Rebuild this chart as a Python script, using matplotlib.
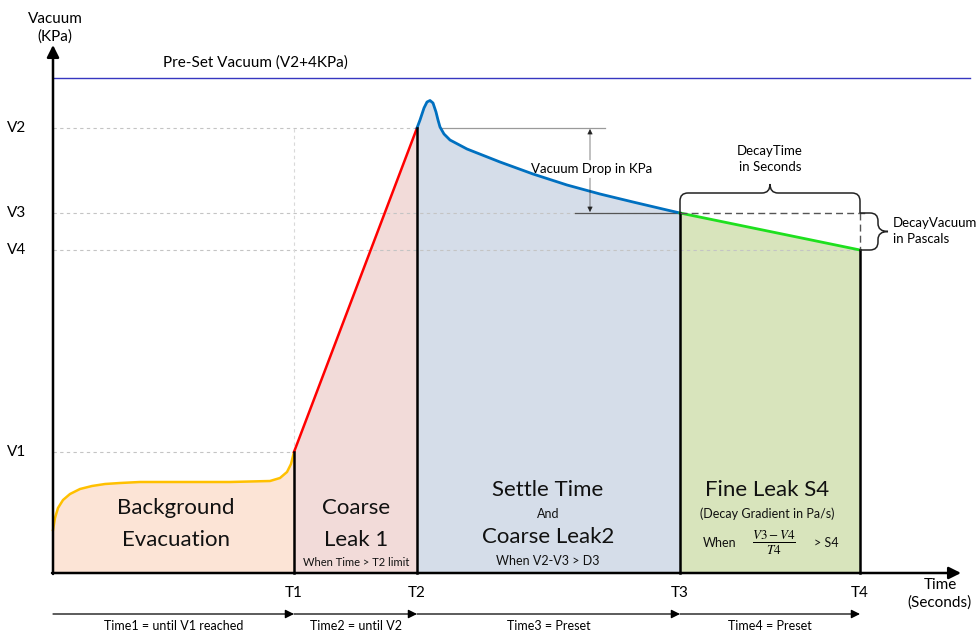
import matplotlib

matplotlib.use("Agg")
import matplotlib.pyplot as plt
from matplotlib.path import Path
from matplotlib.patches import PathPatch

# --- schematic values (x: time units, y: vacuum units) -----------------------
T_LABELS = ["T1", "T2", "T3", "T4"]
T_VALUES = [241, 364, 627, 807]
V_LABELS = ["V1", "V2", "V3", "V4"]
V_VALUES = [121, 445, 360, 323]
PRESET = 495

# background evacuation curve (yellow)
bg_t = [0, 2, 5, 10, 17, 27, 39, 52, 67, 87, 127, 177, 217, 227, 234, 238, 241]
bg_v = [43, 55, 65, 73, 79, 84, 87, 89, 90, 91, 91, 91, 92, 95, 101, 109, 121]

# coarse leak 1 ramp (red)
ramp_t = [241, 364]
ramp_v = [121, 445]

# settle curve (blue): overshoot then decay
settle_t = [364, 367, 371, 374, 377, 380, 383, 385, 387, 391, 397, 414, 447,
            480, 514, 547, 580, 614, 627]
settle_v = [445, 453, 465, 471, 472.5, 470, 461, 453, 446, 439, 433, 424, 411,
            399, 388, 379, 371, 363, 360]

# fine leak decay (green)
fine_t = [627, 807]
fine_v = [360, 323]

PHASE_LABELS = ["Time1 = until V1 reached", "Time2 = until V2",
                "Time3 = Preset", "Time4 = Preset"]

FONT = "Lato"
YELLOW = "#ffc000"
RED = "#ff0000"
BLUE = "#0070c0"
GREEN = "#1ee01e"
PEACH = "#fce4d6"
PINK = "#f2dbd9"
STEEL = "#d5dde9"
OLIVE = "#d8e4bc"
GUIDE = "#c4c4c4"


def brace_up(ax, x0, x1, ybase, ybar, tip, r=8):
    m = (x0 + x1) / 2
    verts = [(x0, ybase), (x0, ybar - r), (x0, ybar), (x0 + r, ybar),
             (m - r, ybar), (m, ybar), (m, ybar + tip),
             (m, ybar), (m + r, ybar), (x1 - r, ybar),
             (x1, ybar), (x1, ybar - r), (x1, ybase)]
    codes = [Path.MOVETO, Path.LINETO, Path.CURVE3, Path.CURVE3,
             Path.LINETO, Path.CURVE3, Path.CURVE3,
             Path.CURVE3, Path.CURVE3, Path.LINETO,
             Path.CURVE3, Path.CURVE3, Path.LINETO]
    ax.add_patch(PathPatch(Path(verts, codes), fc="none", ec="#222222", lw=1.1, zorder=6))


def brace_right(ax, y0, y1, xbase, xbar, tip, r=8):
    m = (y0 + y1) / 2
    verts = [(xbase, y0), (xbar - r, y0), (xbar, y0), (xbar, y0 - r),
             (xbar, m + r), (xbar, m), (xbar + tip, m),
             (xbar, m), (xbar, m - r), (xbar, y1 + r),
             (xbar, y1), (xbar - r, y1), (xbase, y1)]
    codes = [Path.MOVETO, Path.LINETO, Path.CURVE3, Path.CURVE3,
             Path.LINETO, Path.CURVE3, Path.CURVE3,
             Path.CURVE3, Path.CURVE3, Path.LINETO,
             Path.CURVE3, Path.CURVE3, Path.LINETO]
    ax.add_patch(PathPatch(Path(verts, codes), fc="none", ec="#222222", lw=1.1, zorder=6))


def main():
    plt.rcParams["font.family"] = [FONT, "DejaVu Sans"]
    fig = plt.figure(figsize=(9.78, 6.34), dpi=100)
    ax = fig.add_axes([0, 0, 1, 1])
    ax.set_xlim(-53, 925)
    ax.set_ylim(-61, 573)
    ax.axis("off")

    t1, t2, t3, t4 = T_VALUES
    v1, v2, v3, v4 = V_VALUES

    # --- shaded phases ---------------------------------------------------------
    ax.fill_between(bg_t, 0, bg_v, color=PEACH, lw=0, zorder=1)
    ax.fill_between(ramp_t, 0, ramp_v, color=PINK, lw=0, zorder=1)
    ax.fill_between(settle_t, 0, settle_v, color=STEEL, lw=0, zorder=1)
    ax.fill_between(fine_t, 0, fine_v, color=OLIVE, lw=0, zorder=1)

    # --- guide lines -----------------------------------------------------------
    ax.plot([0, t2], [v2, v2], color=GUIDE, lw=0.8, ls=(0, (3, 3)), zorder=2)
    ax.plot([0, t3], [v3, v3], color=GUIDE, lw=0.8, ls=(0, (3, 3)), zorder=2)
    ax.plot([0, t4], [v4, v4], color=GUIDE, lw=0.8, ls=(0, (3, 3)), zorder=2)
    ax.plot([0, t1], [v1, v1], color=GUIDE, lw=0.8, ls=(0, (3, 3)), zorder=2)
    ax.plot([t1, t1], [v1, v2], color="#d9d9d9", lw=0.8, ls=(0, (3, 3)), zorder=2)

    # --- the curves ------------------------------------------------------------
    ax.plot(bg_t, bg_v, color=YELLOW, lw=1.8, zorder=4)
    ax.plot(ramp_t, ramp_v, color=RED, lw=1.8, zorder=4)
    ax.plot(settle_t, settle_v, color=BLUE, lw=2.0, zorder=4)
    ax.plot(fine_t, fine_v, color=GREEN, lw=2.0, zorder=4)

    for t, v in zip([t1, t2, t3, t4], [v1, v2, v3, v4]):
        ax.plot([t, t], [0, v], color="black", lw=1.8, zorder=5)

    # --- axes arrows -----------------------------------------------------------
    ax.annotate("", xy=(0, 528), xytext=(0, -1),
                arrowprops=dict(arrowstyle="-|>", color="black", lw=1.8,
                                mutation_scale=18, shrinkA=0, shrinkB=0), zorder=6)
    ax.annotate("", xy=(908, 0), xytext=(-1, 0),
                arrowprops=dict(arrowstyle="-|>", color="black", lw=1.8,
                                mutation_scale=18, shrinkA=0, shrinkB=0), zorder=6)
    ax.text(2, 545, "Vacuum\n(KPa)", ha="center", va="center", fontsize=11,
            linespacing=1.3)
    ax.text(887, -21, "Time\n(Seconds)", ha="center", va="center", fontsize=11,
            linespacing=1.3)

    # preset vacuum
    ax.plot([0, 917], [PRESET, PRESET], color="#3636c0", lw=1.0, zorder=3)
    ax.text(110, 510, "Pre-Set Vacuum (V2+4KPa)", ha="left", va="center", fontsize=11)

    # tick labels
    for lab, v in zip(V_LABELS, V_VALUES):
        ax.text(-36, v, lab, ha="center", va="center", fontsize=11)
    for lab, t in zip(T_LABELS, T_VALUES):
        ax.text(t, -20, lab, ha="center", va="center", fontsize=11)

    # phase arrows along the bottom
    starts = [0] + T_VALUES[:-1]
    for s, e, lab in zip(starts, T_VALUES, PHASE_LABELS):
        ax.annotate("", xy=(e, -41), xytext=(s, -41),
                    arrowprops=dict(arrowstyle="-|>", color="black", lw=0.9,
                                    mutation_scale=13, shrinkA=0, shrinkB=0))
        ax.text((s + e) / 2, -53, lab, ha="center", va="center", fontsize=9)

    # --- vacuum drop marker ----------------------------------------------------
    ax.plot([387, 552], [v2, v2], color="#9a9a9a", lw=0.9, zorder=3)
    ax.plot([522, t3], [v3, v3], color="#555555", lw=0.9, zorder=3)
    drop_x = 537
    for y_from, y_to in [(413, v2 - 1), (395, v3 + 1)]:
        ax.annotate("", xy=(drop_x, y_to), xytext=(drop_x, y_from),
                    arrowprops=dict(arrowstyle="-|>", color="#222222", lw=0.4,
                                    mutation_scale=8, shrinkA=0, shrinkB=0), zorder=4)
    ax.text(539, 404, "Vacuum Drop in KPa", ha="center", va="center", fontsize=9.5,
            zorder=6)

    # --- decay markers ---------------------------------------------------------
    ax.plot([t3, t4 + 5], [v3, v3], color="#555555", lw=1.0, ls=(0, (5, 3)), zorder=5)
    ax.plot([t4, t4], [v3, v4], color="#555555", lw=1.0, ls=(0, (5, 3)), zorder=5)
    brace_up(ax, t3, t4, v3, 380, 9)
    ax.text((t3 + t4) / 2, 414, "DecayTime\nin Seconds", ha="center", va="center",
            fontsize=9.5, linespacing=1.4)
    brace_right(ax, v3, v4, t4, 825, 10)
    ax.text(840, 342, "DecayVacuum\nin Pascals", ha="left", va="center",
            fontsize=9.5, linespacing=1.4)

    # --- phase captions --------------------------------------------------------
    big = dict(ha="center", va="center", fontsize=16, color="#111111", zorder=6)
    small = dict(ha="center", va="center", fontsize=8, color="#111111", zorder=6)
    mid = dict(ha="center", va="center", fontsize=9, color="#111111", zorder=6)

    ax.text(123, 65, "Background", **big)
    ax.text(123, 33, "Evacuation", **big)

    ax.text(303, 65, "Coarse", **big)
    ax.text(303, 33, "Leak 1", **big)
    ax.text(303, 11, "When Time > T2 limit", **small)

    ax.text(495, 83, "Settle Time", **big)
    ax.text(495, 59, "And", **mid)
    ax.text(495, 36, "Coarse Leak2", **big)
    ax.text(495, 12, "When V2-V3 > D3", **mid)

    ax.text(714, 83, "Fine Leak S4", **big)
    ax.text(714, 59, "(Decay Gradient in Pa/s)", **mid)
    ax.text(667, 30, "When", **mid)
    ax.text(721, 30, r"$\frac{V3-V4}{T4}$", ha="center", va="center", fontsize=13.5,
            math_fontfamily="stix", zorder=6)
    ax.text(773, 30, "> S4", **mid)

    fig.savefig("out.png", dpi=100, facecolor="white")


if __name__ == "__main__":
    main()
